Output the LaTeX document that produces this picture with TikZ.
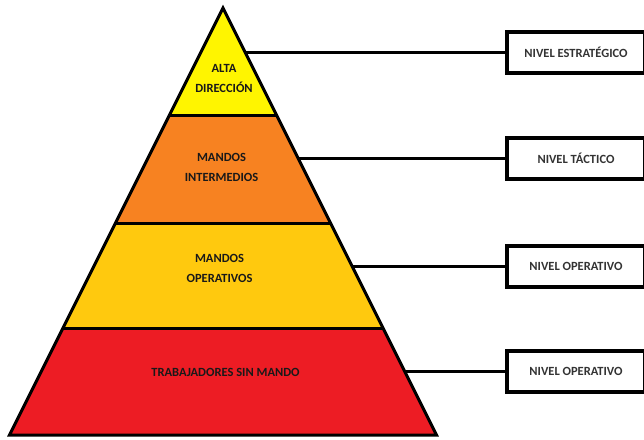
\documentclass[tikz,border=0pt]{standalone}
\usepackage{fontspec}
\setmainfont{Carlito}
\begin{document}
\begin{tikzpicture}[x=1pt,y=-1pt,
  outline/.style={draw=black,line width=3pt,line join=miter},
  lvltext/.style={font=\fontsize{12.5}{20}\selectfont\bfseries,text=black!90,align=center,inner sep=0pt},
  levelbox/.style={draw=black,line width=4pt,fill=white,minimum width=138pt,minimum height=41pt,inner sep=0pt,
    font=\fontsize{12.5}{14}\selectfont\bfseries,text=black!80},
  link/.style={draw=black,line width=3pt}]
\definecolor{topyellow}{RGB}{255,245,0}
\definecolor{midorange}{RGB}{247,130,33}
\definecolor{gold}{RGB}{255,201,14}
\definecolor{basered}{RGB}{237,28,36}
\useasboundingbox (0,0) rectangle (644,439);
\clip (0,0) rectangle (644,439);
% pyramid: apex (223,8), base at y=435
\coordinate (apex) at (223,8);
\coordinate (bl) at (9.5,435);
\coordinate (br) at (436.5,435);
\begin{scope}
  \clip (apex) -- (br) -- (bl) -- cycle;
  \fill[topyellow] (0,0) rectangle (450,115);
  \fill[midorange] (0,115) rectangle (450,223);
  \fill[gold] (0,223) rectangle (450,328);
  \fill[basered] (0,328) rectangle (450,439);
  \draw[outline] (0,115) -- (450,115);
  \draw[outline] (0,223) -- (450,223);
  \draw[outline] (0,328) -- (450,328);
\end{scope}
\draw[outline] (apex) -- (br) -- (bl) -- cycle;
% layer labels
\node[lvltext] (alta) at (224,78) {ALTA\\DIRECCIÓN};
\node[lvltext] (inter) at (221.5,167) {MANDOS\\INTERMEDIOS};
\node[lvltext] (oper) at (219.5,268.5) {MANDOS\\OPERATIVOS};
\node[lvltext] (trab) at (225.5,372) {TRABAJADORES SIN MANDO};
% level boxes
\node[levelbox] (b1) at (576,52.5) {NIVEL ESTRATÉGICO};
\node[levelbox] (b2) at (576,158.5) {NIVEL TÁCTICO};
\node[levelbox] (b3) at (576,266) {NIVEL OPERATIVO};
\node[levelbox] (b4) at (576,371.5) {NIVEL OPERATIVO};
% connector start points on the right edge of the pyramid
\coordinate (e1) at (245,52.5);
\coordinate (e2) at (298,158.5);
\coordinate (e3) at (352,266);
\coordinate (e4) at (404.5,371.5);
\draw[link] (e1) -- (b1.west);
\draw[link] (e2) -- (b2.west);
\draw[link] (e3) -- (b3.west);
\draw[link] (e4) -- (b4.west);
\end{tikzpicture}
\end{document}
